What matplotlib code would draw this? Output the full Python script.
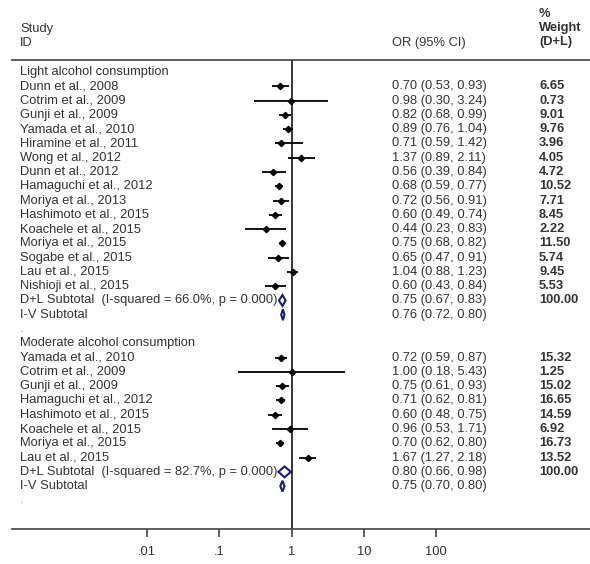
import numpy as np
import matplotlib.pyplot as plt
from matplotlib.patches import Polygon

plt.rcParams['font.family'] = ['Liberation Sans', 'DejaVu Sans']

# light alcohol consumption
light_study = ['Dunn et al., 2008', 'Cotrim et al., 2009', 'Gunji et al., 2009',
               'Yamada et al., 2010', 'Hiramine et al., 2011', 'Wong et al., 2012',
               'Dunn et al., 2012', 'Hamaguchi et al., 2012', 'Moriya et al., 2013',
               'Hashimoto et al., 2015', 'Koachele et al., 2015', 'Moriya et al., 2015',
               'Sogabe et al., 2015', 'Lau et al., 2015', 'Nishioji et al., 2015']
light_or = [0.70, 0.98, 0.82, 0.89, 0.71, 1.37, 0.56, 0.68, 0.72, 0.60, 0.44, 0.75, 0.65, 1.04, 0.60]
light_lo = [0.53, 0.30, 0.68, 0.76, 0.59, 0.89, 0.39, 0.59, 0.56, 0.49, 0.23, 0.68, 0.47, 0.88, 0.43]
light_hi = [0.93, 3.24, 0.99, 1.04, 1.42, 2.11, 0.84, 0.77, 0.91, 0.74, 0.83, 0.82, 0.91, 1.23, 0.84]
light_wt = ['6.65', '0.73', '9.01', '9.76', '3.96', '4.05', '4.72', '10.52', '7.71',
            '8.45', '2.22', '11.50', '5.74', '9.45', '5.53']
light_dl = (0.75, 0.67, 0.83)
light_iv = (0.76, 0.72, 0.80)
light_isq = '66.0%'

# moderate alcohol consumption
mod_study = ['Yamada et al., 2010', 'Cotrim et al., 2009', 'Gunji et al., 2009',
             'Hamaguchi et al., 2012', 'Hashimoto et al., 2015', 'Koachele et al., 2015',
             'Moriya et al., 2015', 'Lau et al., 2015']
mod_or = [0.72, 1.00, 0.75, 0.71, 0.60, 0.96, 0.70, 1.67]
mod_lo = [0.59, 0.18, 0.61, 0.62, 0.48, 0.53, 0.62, 1.27]
mod_hi = [0.87, 5.43, 0.93, 0.81, 0.75, 1.71, 0.80, 2.18]
mod_wt = ['15.32', '1.25', '15.02', '16.65', '14.59', '6.92', '16.73', '13.52']
mod_dl = (0.80, 0.66, 0.98)
mod_iv = (0.75, 0.70, 0.80)
mod_isq = '82.7%'

ticks = [0.01, 0.1, 1, 10, 100]
tick_labels = ['.01', '.1', '1', '10', '100']

W, H = 590, 564
fig = plt.figure(figsize=(W / 100, H / 100), dpi=100)
ax = fig.add_axes([12 / W, 1 - 529 / H, 578 / W, (529 - 60) / H])
ax.set_xscale('log')
ax.set_xlim(10 ** (-279.5 / 72.3), 10 ** (298.5 / 72.3))
ax.set_ylim(32.0, -0.84)

txt = '#333333'
fs = 9.3
navy = '#1c1c7a'
tx = ax.get_yaxis_transform()
col_id = 8 / 578
col_or = 380 / 578
col_wt = 527 / 578


def fmt(e, lo, hi):
    return f'{e:.2f} ({lo:.2f}, {hi:.2f})'


def group(start, title, study, est, lo, hi, wt, dl, iv, isq):
    ax.text(col_id, start, title, transform=tx, va='center', fontsize=fs, color=txt)
    rows = np.arange(len(study)) + start + 1
    for r, s, e, l, h, w in zip(rows, study, est, lo, hi, wt):
        ax.text(col_id, r, s, transform=tx, va='center', fontsize=fs, color=txt)
        ax.text(col_or, r, fmt(e, l, h), transform=tx, va='center', fontsize=fs, color=txt)
        ax.text(col_wt, r, w, transform=tx, va='center', fontsize=fs, color=txt,
                fontweight='bold')
    ax.hlines(rows, lo, hi, color='black', lw=1.3)
    ax.plot(est, rows, 'D', color='black', ms=3.2)
    r_dl = rows[-1] + 1
    r_iv = r_dl + 1
    ax.text(col_id, r_dl, f'D+L Subtotal  (I-squared = {isq}, p = 0.000)', transform=tx,
            va='center', fontsize=fs, color=txt)
    ax.text(col_id, r_iv, 'I-V Subtotal', transform=tx, va='center', fontsize=fs, color=txt)
    for r, (e, l, h) in [(r_dl, dl), (r_iv, iv)]:
        ax.add_patch(Polygon([(l, r), (e, r - 0.38), (h, r), (e, r + 0.38)], closed=True,
                             fill=False, edgecolor=navy, lw=1.5))
        ax.text(col_or, r, fmt(e, l, h), transform=tx, va='center', fontsize=fs, color=txt)
    ax.text(col_wt, r_dl, '100.00', transform=tx, va='center', fontsize=fs, color=txt,
            fontweight='bold')
    ax.text(col_id, r_iv + 1, '.', transform=tx, va='center', fontsize=fs, color='#888888')
    return r_iv + 2


nxt = group(0, 'Light alcohol consumption', light_study, light_or, light_lo, light_hi,
            light_wt, light_dl, light_iv, light_isq)
group(nxt, 'Moderate alcohol consumption', mod_study, mod_or, mod_lo, mod_hi,
      mod_wt, mod_dl, mod_iv, mod_isq)

ax.axvline(1, color='black', lw=1.1)

# header
for y, s in [(-3.0, 'Study'), (-2.03, 'ID')]:
    ax.text(col_id, y, s, transform=tx, va='center', fontsize=fs, color=txt, clip_on=False)
ax.text(col_or, -2.03, 'OR (95% CI)', transform=tx, va='center', fontsize=fs, color=txt,
        clip_on=False)
for y, s in [(-4.05, '%'), (-3.1, 'Weight'), (-2.12, '(D+L)')]:
    ax.text(col_wt, y, s, transform=tx, va='center', fontsize=fs, color=txt,
            fontweight='bold', clip_on=False)

for sp in ['left', 'right']:
    ax.spines[sp].set_visible(False)
ax.spines['top'].set_color('#444444')
ax.spines['top'].set_linewidth(1.2)
ax.spines['bottom'].set_color('#444444')
ax.spines['bottom'].set_linewidth(1.2)
ax.set_yticks([])
ax.set_xticks(ticks)
ax.set_xticklabels(tick_labels)
ax.minorticks_off()
ax.tick_params(axis='x', length=6, width=1.2, color='#444444', labelsize=fs,
               labelcolor=txt, pad=6)

fig.savefig('out.png', dpi=100, facecolor='white')
